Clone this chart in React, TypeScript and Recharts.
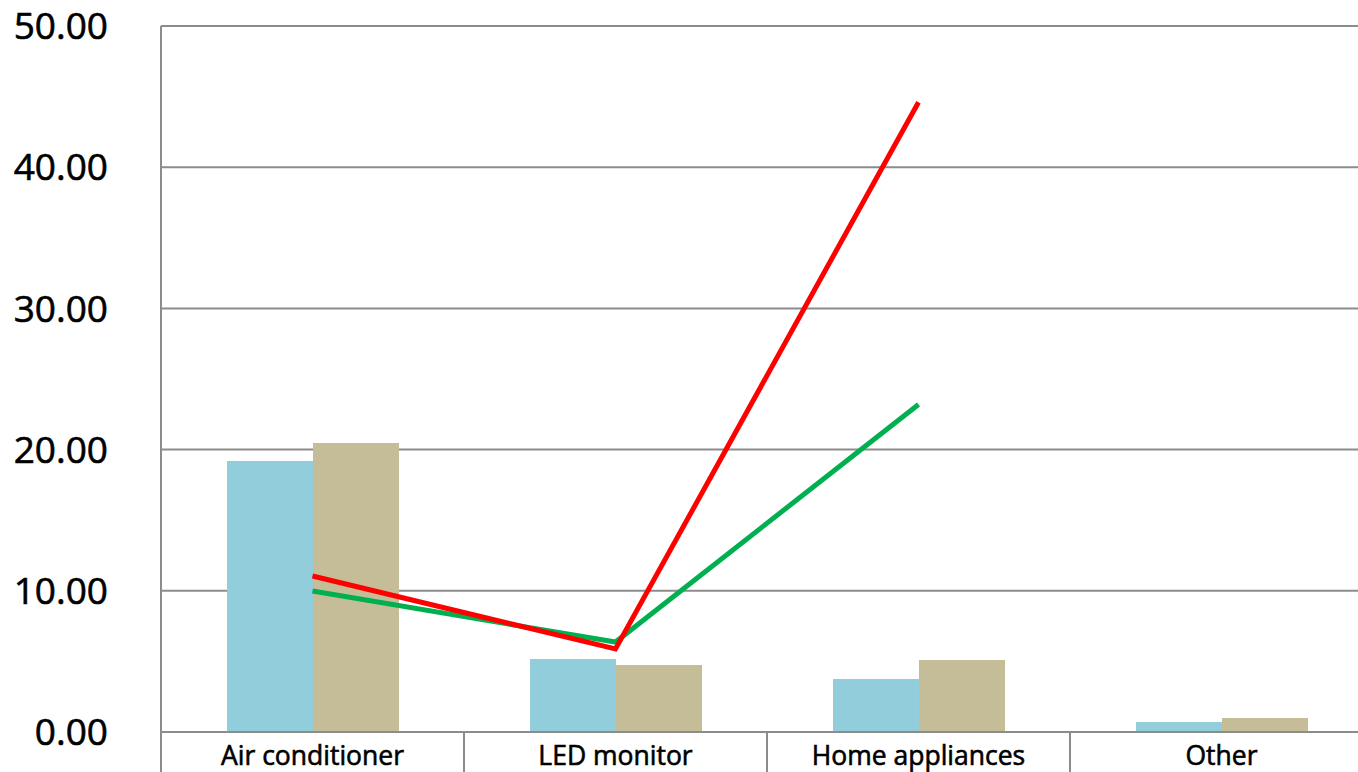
import React from "react";
import { ComposedChart, Bar, Line, XAxis, YAxis, CartesianGrid } from "recharts";

const categories = ["Air conditioner", "LED monitor", "Home appliances", "Other"];
const barSeriesA = [19.19, 5.17, 3.75, 0.71];
const barSeriesB = [20.47, 4.74, 5.1, 0.99];
const lineRed = [11.05, 5.88, 44.6, null];
const lineGreen = [9.99, 6.37, 23.2, null];
const yTicks = [0, 10, 20, 30, 40, 50];

const data = categories.map((c, i) => ({
  name: c,
  a: barSeriesA[i],
  b: barSeriesB[i],
  red: lineRed[i],
  green: lineGreen[i],
}));

const CHART_W = 1373;
const CHART_H = 772;
const Y_W = 161;
const X_H = 40;
const FONT = "'Open Sans', 'Noto Sans', sans-serif";
const GRID = "#8c8c8c";
const halfBand = (CHART_W - Y_W) / categories.length / 2;

const XTick = (props: any) => {
  const { x, y, payload } = props;
  return (
    <g>
      <line x1={x - halfBand} y1={y} x2={x - halfBand} y2={y + X_H} stroke={GRID} strokeWidth={2} />
      <line x1={x + halfBand} y1={y} x2={x + halfBand} y2={y + X_H} stroke={GRID} strokeWidth={2} />
      <text x={x} y={y} dy={33} textAnchor="middle" fontFamily={FONT} fontSize={26.5} fill="#000" stroke="#000" strokeWidth={0.6}>
        {payload.value}
      </text>
    </g>
  );
};

export default function App() {
  return (
    <div style={{ position: "absolute", left: 0, top: 0, width: 1358, height: 772, overflow: "hidden", background: "#fff" }}>
      <ComposedChart
        width={CHART_W}
        height={CHART_H}
        data={data}
        margin={{ top: 26, right: 0, bottom: 0, left: 0 }}
        barGap={0}
        barCategoryGap={65}
      >
        <CartesianGrid vertical={false} stroke={GRID} strokeWidth={2} />
        <XAxis
          dataKey="name"
          height={X_H}
          axisLine={{ stroke: GRID, strokeWidth: 2 }}
          tickLine={false}
          tickSize={0}
          tickMargin={0}
          tick={<XTick />}
          interval={0}
        />
        <YAxis
          width={Y_W}
          domain={[0, 50]}
          ticks={yTicks}
          interval={0}
          tickFormatter={(v: number) => v.toFixed(2)}
          axisLine={{ stroke: GRID, strokeWidth: 2 }}
          tickLine={false}
          tickMargin={47}
          tick={{ fontFamily: FONT, fontSize: 37, fill: "#000", stroke: "#000", strokeWidth: 0.6 }}
        />
        <Bar dataKey="a" fill="#92CDDC" barSize={86} isAnimationActive={false} />
        <Bar dataKey="b" fill="#C4BD97" barSize={86} isAnimationActive={false} />
        <Line dataKey="green" stroke="#00B050" strokeWidth={5} dot={false} connectNulls={false} isAnimationActive={false} />
        <Line dataKey="red" stroke="#FF0000" strokeWidth={5} dot={false} connectNulls={false} isAnimationActive={false} />
      </ComposedChart>
    </div>
  );
}
